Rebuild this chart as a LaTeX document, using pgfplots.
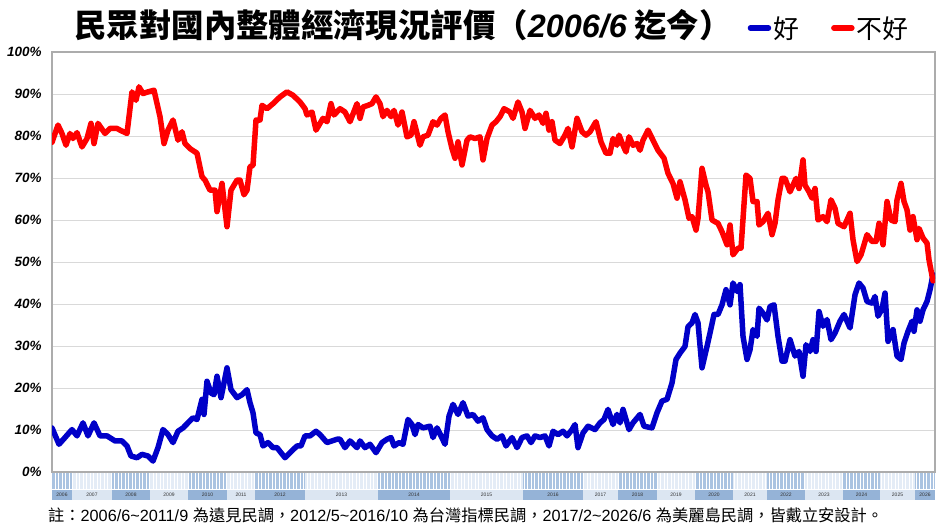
\documentclass[border=0pt]{standalone}
\usepackage{fontspec}
\setmainfont{Liberation Sans}
\newfontfamily\cjk{Noto Sans CJK TC}
\usepackage{pgfplots}
\pgfplotsset{compat=1.18}
\definecolor{rd}{RGB}{255,0,0}
\definecolor{bl}{RGB}{0,0,200}
\definecolor{yrdark}{RGB}{149,179,215}
\definecolor{yrlight}{RGB}{220,230,242}
\definecolor{modark}{RGB}{170,195,225}
\definecolor{molight}{RGB}{228,236,246}
\begin{document}
\begin{tikzpicture}[x=1bp,y=1bp]
\path[use as bounding box] (0,0) rectangle (940,532);
% year band below the plot
\foreach \a/\b/\yr/\c in {52/72/2006/dark,72/112/2007/light,112/150/2008/dark,150/188/2009/light,188/227/2010/dark,227/255/2011/light,255/305/2012/dark,305/378/2013/light,378/450/2014/dark,450/523/2015/light,523/583/2016/dark,583/618/2017/light,618/657/2018/dark,657/695/2019/light,695/733/2020/dark,733/767/2021/light,767/805/2022/dark,805/843/2023/light,843/880/2024/dark,880/915/2025/light,915/935/2026/dark}{
  \fill[yr\c] (\a,32) rectangle (\b,42);
  \fill[mo\c] (\a,43) rectangle (\b,59);
  \node[font=\fontsize{5}{5}\selectfont, text=black!80, inner sep=0] at ({(\a+\b)/2},37) {\yr};
}
\foreach \x in {55,58.5,...,934} \draw[white, line width=0.7] (\x,43) -- (\x,59);
\node[anchor=center, font=\cjk\bfseries\fontsize{32.5}{32.5}\selectfont] at (403,507)
  {民眾對國內整體經濟現況評價（{\fontspec{Liberation Sans}\bfseries\itshape 2006/6} 迄今）};
\node[anchor=west, inner sep=0, font=\fontsize{16.3}{16.3}\selectfont] at (48,17)
  {{\cjk 註：}2006/6\textasciitilde 2011/9 {\cjk 為遠見民調，}2012/5\textasciitilde 2016/10 {\cjk 為台灣指標民調，}2017/2\textasciitilde 2026/6 {\cjk 為美麗島民調，皆戴立安設計。}};
\begin{axis}[
  at={(52bp,60bp)}, anchor=south west, scale only axis,
  width=883bp, height=420bp,
  xmin=52, xmax=935, ymin=0, ymax=100,
  xtick=\empty, ytick={0,10,...,100},
  ymajorgrids, grid style={gray!30, line width=0.8bp},
  axis line style={gray!65, line width=1.3bp},
  major tick length=0pt,
  /pgf/number format/assume math mode=true,
  yticklabel={\pgfmathprintnumber{\tick}\%},
  yticklabel style={font=\fontsize{13.5}{13.5}\selectfont\bfseries\itshape, xshift=-7bp},
  legend columns=2,
  legend style={at={(0.88,1.057)}, anchor=center, draw=none, fill=none,
    font=\cjk\fontsize{26}{26}\selectfont,
    /tikz/every even column/.append style={column sep=30bp}},
  legend image code/.code={\draw[#1, line width=5.5bp] (0bp,0bp) -- (18bp,0bp);},
  every axis plot/.append style={line width=5.5bp, line join=round, line cap=round},
]
\addplot[bl] coordinates {
(52,10.5)(59,6.6)(65,8.2)(72,10.1)(77,8.6)(83,11.7)(88,8.6)(94,11.7)(100,8.6)(107,8.6)
(115,7.4)(122,7.4)(127,6.2)(131,3.8)(137,3.4)(142,4.2)(148,3.8)(153,2.6)(158,5.8)(163,10.1)
(168,8.9)(173,7)(178,9.7)(183,10.5)(188,11.7)(193,12.9)(197,12.5)(202,17.3)(204,13.7)(207,21.6)
(211,18.8)(214,18.4)(217,22.8)(221,17.7)(224,21.2)(227,24.8)(231,19.6)(237,17.7)(242,18.4)(247,19.6)
(250,16.5)(253,14.1)(256,9.3)(260,8.9)(263,6.2)(268,7)(273,5.8)(277,5.8)(281,4.6)(285,3.4)
(290,4.6)(297,6.2)(301,6.2)(305,8.6)(310,8.6)(316,9.7)(320,8.9)(327,7)(332,7.4)(337,7.8)
(340,7.8)(345,5.8)(350,7.4)(357,5.8)(360,7.4)(365,5.8)(370,6.6)(376,4.6)(382,7)(387,7.8)
(391,8.2)(394,6.2)(399,7)(403,6.6)(408,12.5)(412,11.3)(415,8.9)(418,11.3)(423,10.5)(430,10.9)
(433,8.2)(437,10.5)(441,8.6)(445,6.6)(449,13.3)(453,16.1)(458,13.7)(463,16.5)(468,13.3)(473,13.7)
(478,12.1)(483,12.9)(487,10.1)(492,8.6)(497,7.8)(502,8.6)(506,6.2)(512,8.2)(517,5.8)(522,8.2)
(527,8.6)(531,7)(535,8.6)(540,8.2)(545,8.6)(549,6.2)(553,9.7)(558,8.9)(563,9.7)(567,8.6)
(572,10.1)(575,11.3)(578,5.8)(583,9.3)(588,10.9)(595,10.1)(600,11.7)(604,12.5)(608,14.9)(613,11.3)
(617,13.7)(620,11.7)(623,14.9)(629,10.1)(633,11.7)(640,13.7)(644,10.9)(652,10.5)(657,14.1)(662,16.9)
(667,17.3)(672,21.2)(676,26.8)(680,28.3)(685,29.9)(688,34.6)(692,35.5)(695,37.5)(698,35.5)(702,24.8)
(707,29.9)(710,33.1)(714,37.5)(718,37.5)(722,39.8)(726,43.4)(730,39.8)(733,45)(737,43)(740,44.6)
(743,32.3)(747,26.8)(750,29.1)(753,33.9)(757,32.3)(759,39)(763,37.8)(767,36.2)(770,39.4)(774,39.8)
(778,32.3)(782,26.4)(785,26.4)(790,31.5)(795,27.6)(799,28.7)(803,22.8)(806,30.3)(810,28.7)(813,31.5)
(816,28.7)(819,38.2)(823,34.7)(827,36.3)(831,31.5)(835,33.1)(840,35.9)(844,37.5)(850,34.3)(855,42.2)
(859,45)(863,43.8)(867,40.6)(872,40.2)(875,41.8)(878,37.1)(882,38.8)(885,42.6)(888,31.1)(893,33.9)
(897,27.6)(901,26.8)(904,30.7)(908,33.5)(912,35.9)(914,33.5)(917,38.6)(920,35.9)(923,38.6)(927,40.6)
(930,43.4)(933,47)
};
\addlegendentry{好}
\addplot[rd] coordinates {
(52,78.5)(58,82.6)(62,80.6)(66,77.8)(70,80.6)(73,79.4)(77,80.8)(82,77.4)(87,79.4)(91,83)
(94,78.2)(98,83)(105,80.6)(110,81.8)(117,81.8)(120,81.4)(127,80.6)(132,90.5)(136,88.5)(139,91.7)
(143,90.1)(148,90.5)(154,90.9)(160,84.6)(164,78.2)(168,81.4)(173,83.8)(178,79)(182,81)(185,78.2)
(190,77)(197,75.9)(202,70.3)(205,69.5)(210,67.1)(215,67.1)(217,62)(222,68.7)(227,58.4)(231,67.1)
(237,69.5)(240,69.5)(244,66)(247,67.1)(250,72.7)(253,73)(256,83.8)(260,83.8)(262,87.3)(267,86.5)
(273,87.7)(280,89.3)(287,90.5)(293,89.7)(300,88.1)(305,86.5)(307,85)(312,85.7)(316,81.4)(320,83)
(323,84.2)(327,83.4)(331,87.7)(334,85)(340,86.5)(345,85.7)(350,83.4)(357,87.7)(360,84.2)(363,86.9)
(368,87.3)(372,87.7)(376,89.3)(380,87.7)(383,84.6)(387,86.1)(391,84.6)(394,86.1)(398,82.6)(402,85.7)
(407,79.8)(411,80.2)(414,83.4)(420,77.8)(423,79.8)(428,80.2)(433,83.4)(437,82.6)(441,84.2)(445,85)
(448,81)(452,77)(455,74.7)(458,78.6)(462,73.1)(467,79)(470,79.8)(475,79.4)(480,79.8)(483,74.3)
(487,79.4)(492,82.6)(496,83.4)(500,84.6)(504,86.5)(510,85.7)(513,84.2)(518,88.1)(522,85.7)(525,81.8)
(530,86.1)(535,84.2)(539,85)(543,83)(546,85.4)(549,81.4)(552,83.4)(555,79)(560,78.2)(565,80.2)
(568,81.8)(572,77.4)(577,84.2)(582,81)(586,80.2)(590,81)(596,83.4)(601,78.6)(606,75.9)(610,75.9)
(613,79.4)(617,77.8)(619,80.2)(623,77.8)(626,76.2)(629,79.8)(633,77.8)(637,78.2)(640,76.6)(643,79)
(648,81.4)(653,79)(658,76.6)(664,74.7)(668,71.1)(673,68.7)(677,65.2)(680,69.1)(685,64.8)(689,60.4)
(692,60.8)(696,57.6)(698,60.4)(702,72.3)(706,68.3)(708,66.7)(712,60)(718,59.2)(722,57.2)(727,54.1)
(730,58.8)(733,51.7)(738,53.3)(741,53.3)(746,70.7)(750,69.9)(753,64.4)(757,64.4)(759,58.8)(763,59.6)
(768,61.6)(772,56.5)(775,59.2)(778,64.8)(782,69.9)(785,69.9)(790,66.7)(796,69.9)(799,67.5)(803,74.3)
(805,68.3)(809,66.7)(812,65.2)(815,67.5)(818,60)(823,60.8)(827,59.6)(831,64.8)(835,62.8)(838,59.2)
(844,58.4)(850,61.6)(853,55.3)(857,50.1)(861,51.7)(867,56.5)(872,54.9)(876,54.9)(879,59.2)(883,54.1)
(887,64.4)(891,60)(895,59.6)(897,64.8)(901,68.7)(904,64.4)(907,62.4)(910,57.6)(913,60.8)(917,55.3)
(919,58)(923,55.7)(927,54.5)(929,50.5)(933,45.5)
};
\addlegendentry{不好}
\end{axis}
\end{tikzpicture}
\end{document}
